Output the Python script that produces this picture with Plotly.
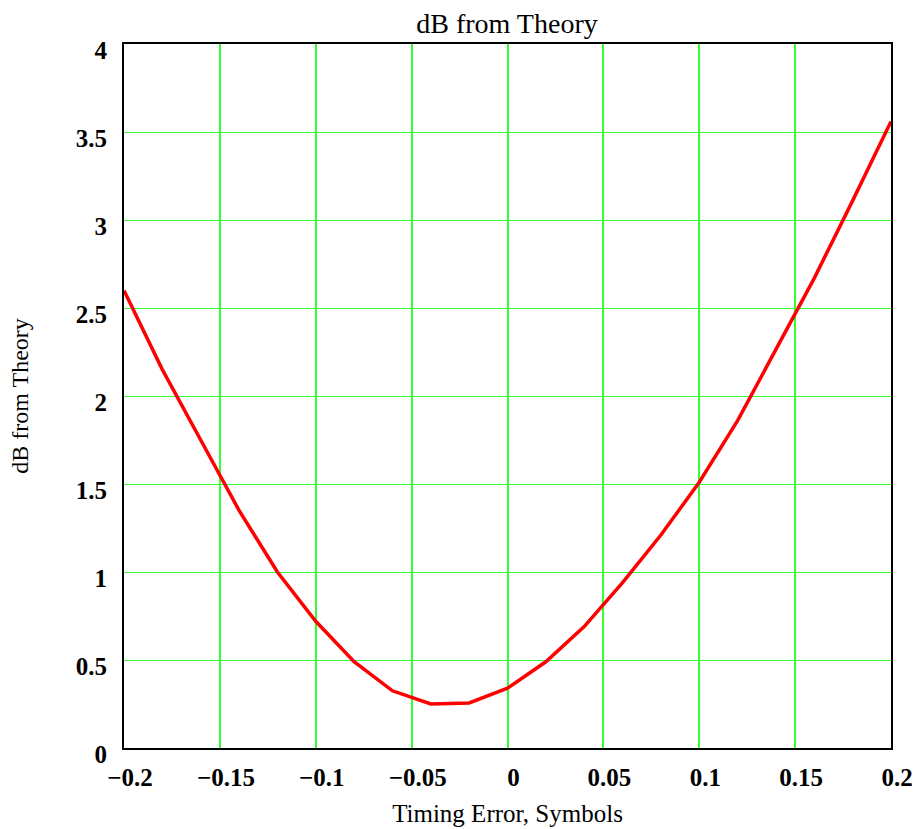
import plotly.graph_objects as go

timing_error = [-0.20, -0.18, -0.16, -0.14, -0.12, -0.10, -0.08, -0.06, -0.04, -0.02,
                0.00, 0.02, 0.04, 0.06, 0.08, 0.10, 0.12, 0.14, 0.16, 0.18, 0.20]
db_from_theory = [2.60, 2.15, 1.75, 1.35, 1.00, 0.72, 0.49, 0.325, 0.25, 0.256,
                  0.34, 0.49, 0.69, 0.94, 1.21, 1.51, 1.86, 2.26, 2.67, 3.11, 3.56]

x_ticks = [-0.2, -0.15, -0.1, -0.05, 0, 0.05, 0.1, 0.15, 0.2]
x_tick_labels = ["\u22120.2", "\u22120.15", "\u22120.1", "\u22120.05", "0", "0.05", "0.1", "0.15", "0.2"]
y_ticks = [0, 0.5, 1, 1.5, 2, 2.5, 3, 3.5, 4]
y_tick_labels = ["0", "0.5", "1", "1.5", "2", "2.5", "3", "3.5", "4"]

serif = "Liberation Serif, Times New Roman, serif"
grid_green = "#33ff33"

fig = go.Figure()
fig.add_trace(go.Scatter(
    x=timing_error, y=db_from_theory, mode="lines",
    line=dict(color="#ff0000", width=3.5), showlegend=False,
))

fig.update_layout(
    template="none",
    width=916, height=829,
    margin=dict(l=124, r=25, t=44, b=81),
    paper_bgcolor="white", plot_bgcolor="white",
    title=dict(text="dB from Theory", x=0.5535, xanchor="center", y=0.972, yanchor="middle",
               font=dict(family=serif, size=28, color="black")),
    font=dict(family=serif, color="black"),
)
fig.update_xaxes(
    range=[-0.2, 0.2], tickvals=x_ticks, ticktext=x_tick_labels,
    tickfont=dict(family=serif, size=25, color="black", weight="bold"),
    showgrid=True, gridcolor=grid_green, gridwidth=2,
    showline=True, linecolor="black", linewidth=2, mirror=True,
    ticks="", zeroline=False, ticklabelstandoff=6, ticklabelshift=6,
    title=dict(text="Timing Error, Symbols", font=dict(family=serif, size=25, color="black"), standoff=14),
)
fig.update_yaxes(
    range=[0, 4], tickvals=y_ticks, ticktext=y_tick_labels,
    tickfont=dict(family=serif, size=25, color="black", weight="bold"),
    showgrid=True, gridcolor=grid_green, gridwidth=1,
    showline=True, linecolor="black", linewidth=2, mirror=True,
    ticks="", zeroline=False, ticklabelstandoff=10, ticklabelshift=6,
    title=dict(text="dB from Theory", font=dict(family=serif, size=24, color="black"), standoff=40),
)

fig.write_html("out.html")
